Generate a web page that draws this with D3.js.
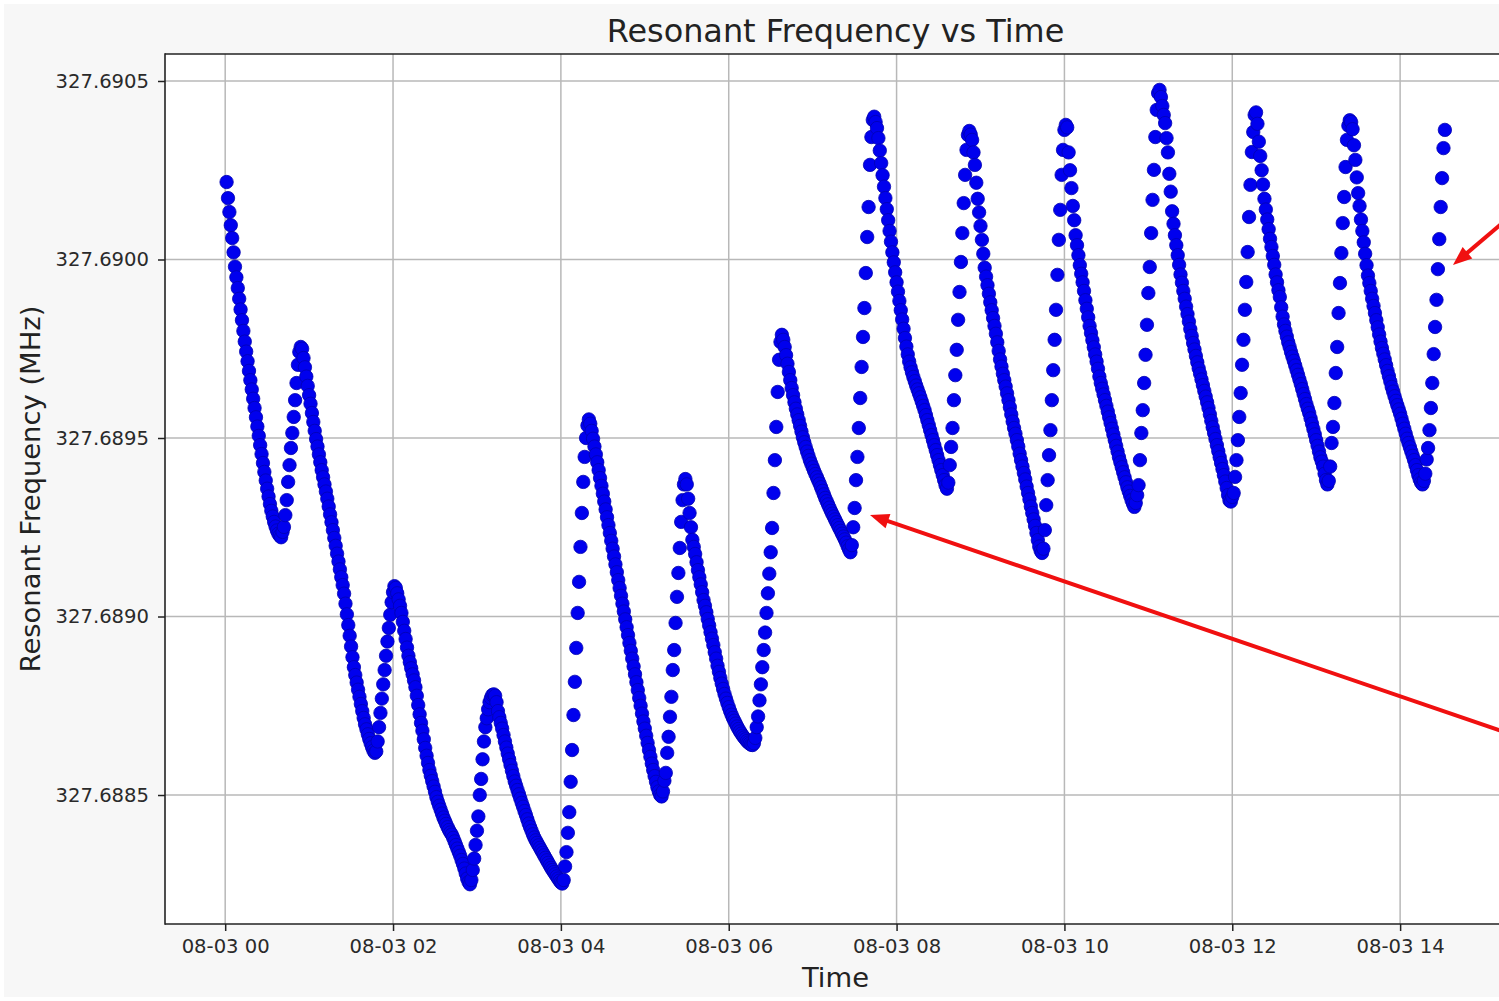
<!DOCTYPE html>
<html>
<head>
<meta charset="utf-8">
<script src="https://cdn.jsdelivr.net/npm/d3@7"></script>
<style>
  html, body { margin: 0; padding: 0; background: #ffffff; }
  svg { display: block; }
</style>
</head>
<body>
<svg id="chart" width="1499" height="1001"></svg>
<script>
// Resonant frequency readings, one per minute, stored as offsets in Hz above 327.688 MHz.
const baseFreqMHz = 327.688;

// 00:01 – 00:59
const hour00 = [
  2217,2172,2133,2096,2060,2020,1980,1950,1920,1890,
  1860,1830,1800,1770,1742,1715,1688,1662,1636,1610,
  1584,1558,1532,1506,1480,1455,1430,1405,1381,1358,
  1336,1315,1296,1280,1265,1252,1241,1232,1226,1222,
  1237,1251,1284,1326,1377,1424,1472,1514,1559,1606,
  1654,1705,1741,1755,1750,1724,1698,1672,1646
];
// 01:00 – 01:59
const hour01 = [
  1620,1596,1570,1545,1520,1497,1476,1454,1432,1410,
  1390,1370,1350,1330,1308,1286,1264,1242,1220,1198,
  1176,1154,1132,1110,1088,1064,1036,1006,976,946,
  916,886,858,836,815,795,775,755,735,716,
  698,684,670,657,645,634,624,618,622,650,
  690,730,770,810,850,890,930,968,1005,1040
];
// 02:00 – 02:59
const hour02 = [
  1068,1085,1080,1065,1048,1030,1010,985,960,937,
  913,890,872,855,838,821,802,778,752,726,
  702,680,656,632,610,590,570,554,539,524,
  509,494,481,470,459,448,437,428,419,410,
  402,395,389,380,370,360,350,340,330,318,
  307,294,280,266,256,250,262,290,322,360
];
// 03:00 – 03:59
const hour03 = [
  400,440,500,545,600,650,690,715,740,760,
  772,780,782,778,760,735,718,702,686,668,
  650,633,616,600,584,568,553,538,526,514,
  502,490,478,467,455,444,432,420,410,400,
  390,381,373,366,359,352,345,338,331,324,
  317,310,303,296,290,284,278,272,266,260
];
// 04:00 – 04:59
const hour04 = [
  255,252,262,300,340,394,452,537,626,724,
  817,912,1010,1097,1195,1290,1377,1447,1500,1535,
  1552,1540,1520,1498,1476,1454,1432,1410,1388,1366,
  1344,1322,1300,1278,1256,1234,1212,1190,1168,1146,
  1124,1102,1080,1058,1036,1014,992,970,948,926,
  904,882,860,838,816,794,772,750,728,706
];
// 05:00 – 05:59
const hour05 = [
  686,666,646,626,607,588,570,553,537,522,
  510,500,496,510,540,562,618,663,719,775,
  850,906,982,1055,1122,1192,1265,1326,1370,1385,
  1370,1330,1290,1250,1215,1195,1175,1152,1130,1110,
  1090,1068,1046,1030,1012,993,975,956,938,920,
  900,882,862,845,828,812,797,783,770,758
];
// 06:00 – 06:59
const hour06 = [
  746,735,725,716,708,700,692,685,678,672,
  666,661,656,651,647,644,641,640,645,660,
  690,720,765,810,858,906,955,1010,1065,1120,
  1180,1248,1346,1438,1531,1629,1719,1769,1789,1775,
  1755,1732,1708,1685,1662,1640,1620,1600,1582,1566,
  1550,1534,1518,1502,1488,1475,1462,1450,1438,1428
];
// 07:00 – 07:59
const hour07 = [
  1418,1408,1399,1390,1381,1372,1362,1352,1342,1332,
  1323,1314,1305,1296,1288,1280,1272,1264,1256,1248,
  1240,1232,1224,1216,1207,1197,1188,1180,1200,1250,
  1304,1382,1447,1528,1612,1699,1783,1864,1962,2063,
  2147,2265,2343,2391,2400,2385,2368,2340,2305,2270,
  2236,2204,2172,2141,2110,2080,2050,2020,1992,1964
];
// 08:00 – 08:59
const hour08 = [
  1936,1910,1884,1858,1832,1806,1780,1756,1734,1714,
  1698,1684,1671,1659,1647,1636,1625,1614,1602,1590,
  1578,1564,1550,1536,1522,1508,1494,1480,1466,1452,
  1438,1424,1410,1396,1382,1368,1358,1375,1424,1475,
  1528,1606,1676,1747,1831,1909,1993,2074,2158,2237,
  2307,2349,2360,2350,2335,2300,2265,2215,2170,2132
];
// 09:00 – 09:59
const hour09 = [
  2094,2055,2016,1977,1952,1928,1904,1880,1858,1836,
  1814,1792,1768,1744,1720,1700,1680,1662,1644,1625,
  1606,1586,1566,1546,1528,1512,1494,1476,1456,1438,
  1420,1402,1384,1364,1346,1328,1308,1290,1272,1254,
  1234,1214,1196,1184,1178,1190,1242,1312,1382,1452,
  1522,1606,1690,1775,1859,1957,2055,2139,2237,2307
];
// 10:00 – 10:59
const hour10 = [
  2363,2377,2370,2300,2250,2200,2150,2110,2068,2040,
  2012,1984,1960,1936,1912,1886,1862,1838,1814,1794,
  1774,1754,1734,1714,1694,1672,1654,1638,1622,1606,
  1590,1574,1558,1542,1526,1510,1494,1478,1462,1446,
  1432,1418,1404,1390,1376,1362,1350,1338,1326,1316,
  1307,1318,1340,1368,1438,1514,1578,1654,1733,1817
];
// 11:00 – 11:59
const hour11 = [
  1906,1979,2074,2167,2251,2343,2419,2466,2475,2455,
  2430,2405,2382,2340,2300,2240,2190,2135,2100,2068,
  2040,2012,1985,1958,1935,1912,1890,1868,1847,1826,
  1805,1786,1766,1748,1730,1712,1695,1680,1664,1648,
  1632,1616,1600,1584,1566,1548,1530,1514,1497,1480,
  1463,1446,1430,1413,1396,1378,1360,1340,1325,1322
];
// 12:00 – 12:59
const hour12 = [
  1335,1346,1391,1438,1494,1559,1626,1705,1775,1859,
  1937,2021,2119,2209,2301,2357,2405,2412,2380,2330,
  2290,2250,2210,2170,2140,2112,2085,2058,2035,2010,
  1985,1958,1936,1914,1895,1866,1840,1818,1800,1784,
  1768,1755,1741,1728,1716,1703,1690,1677,1664,1651,
  1637,1623,1609,1595,1582,1570,1555,1540,1525,1510
];
// 13:00 – 13:59
const hour13 = [
  1494,1478,1462,1446,1434,1420,1400,1382,1370,1380,
  1420,1486,1531,1598,1682,1755,1850,1934,2018,2102,
  2175,2259,2335,2375,2390,2385,2365,2320,2279,2230,
  2186,2150,2112,2080,2048,2016,1984,1955,1934,1912,
  1890,1870,1850,1830,1810,1790,1770,1752,1736,1720,
  1704,1688,1673,1658,1643,1630,1617,1604,1592,1580
];
// 14:00 – 14:32
const hour14 = [
  1568,1554,1540,1526,1512,1498,1486,1474,1462,1450,
  1438,1424,1410,1396,1384,1375,1370,1380,1400,1440,
  1472,1522,1584,1654,1735,1811,1887,1973,2057,2147,
  2228,2312,2363
];

// [hour, minute of the first reading, readings]
const hourBlocks = [
  [0, 1, hour00], [1, 0, hour01], [2, 0, hour02], [3, 0, hour03],
  [4, 0, hour04], [5, 0, hour05], [6, 0, hour06], [7, 0, hour07],
  [8, 0, hour08], [9, 0, hour09], [10, 0, hour10], [11, 0, hour11],
  [12, 0, hour12], [13, 0, hour13], [14, 0, hour14]
];

const xTickHours = [0, 2, 4, 6, 8, 10, 12, 14];
const yTickValues = [327.6885, 327.6890, 327.6895, 327.6900, 327.6905];

// Red call-out arrows: tail and tip given in (time, MHz).
const callouts = [
  { tail: [15, 32, 50, 327.6901675], tip: [14, 37, 48, 327.6899846] },
  { tail: [15, 32, 50, 327.6886524], tip: [7, 41, 0, 327.6892843] }
];

const day = (h, m, s = 0) => new Date(2024, 7, 3, h, m, s);

const readings = [];
hourBlocks.forEach(([hour, firstMinute, values]) => {
  values.forEach((hz, i) => {
    readings.push({ time: day(hour, firstMinute + i), mhz: baseFreqMHz + hz / 1e6 });
  });
});

const W = 1499, H = 1001;
const plot = { left: 165, right: 1506, top: 54, bottom: 924 };

const svg = d3.select("#chart");

// Figure background
svg.append("rect").attr("width", W).attr("height", H).attr("fill", "#ffffff");
svg.append("rect").attr("x", 4).attr("y", 4).attr("width", W - 4).attr("height", H - 8)
  .attr("fill", "#f7f7f7");

const x = d3.scaleTime()
  .domain([new Date(2024, 7, 2, 23, 16, 58), day(15, 15, 42)])
  .range([plot.left, plot.right]);

const y = d3.scaleLinear()
  .domain([327.6881387, 327.6905756])
  .range([plot.bottom, plot.top]);

// Axes background
svg.append("rect")
  .attr("x", plot.left).attr("y", plot.top)
  .attr("width", plot.right - plot.left).attr("height", plot.bottom - plot.top)
  .attr("fill", "#ffffff");

const xTicks = xTickHours.map(h => day(h, 0));

// Grid
const grid = svg.append("g").attr("stroke", "#b8b8b8").attr("stroke-width", 1.5);
grid.selectAll("line.vx").data(xTicks).join("line")
  .attr("x1", d => x(d)).attr("x2", d => x(d))
  .attr("y1", plot.top).attr("y2", plot.bottom);
grid.selectAll("line.hy").data(yTickValues).join("line")
  .attr("x1", plot.left).attr("x2", plot.right)
  .attr("y1", d => y(d)).attr("y2", d => y(d));

// Scatter points
const clip = svg.append("clipPath").attr("id", "plot-clip");
clip.append("rect").attr("x", plot.left).attr("y", plot.top)
  .attr("width", plot.right - plot.left).attr("height", plot.bottom - plot.top);

svg.append("g").attr("clip-path", "url(#plot-clip)")
  .selectAll("circle").data(readings).join("circle")
  .attr("cx", d => x(d.time))
  .attr("cy", d => y(d.mhz))
  .attr("r", 6.7)
  .attr("fill", "#0000ee")
  .attr("stroke", "#0000b0")
  .attr("stroke-width", 0.8);

// Axes
const fontFamily = "'DejaVu Sans', 'Liberation Sans', sans-serif";

const xAxis = svg.append("g")
  .attr("transform", `translate(0,${plot.bottom})`)
  .call(d3.axisBottom(x).tickValues(xTicks).tickFormat(d3.timeFormat("%m-%d %H"))
    .tickSize(7).tickPadding(8).tickSizeOuter(0));

const yAxis = svg.append("g")
  .attr("transform", `translate(${plot.left},0)`)
  .call(d3.axisLeft(y).tickValues(yTickValues).tickFormat(d3.format(".4f"))
    .tickSize(7).tickPadding(9).tickSizeOuter(0));

[xAxis, yAxis].forEach(a => {
  a.select(".domain").remove();
  a.selectAll(".tick line").attr("stroke", "#222").attr("stroke-width", 1.5);
  a.selectAll(".tick text")
    .attr("fill", "#2a2a2a")
    .style("font-family", fontFamily)
    .style("font-size", "19.6px");
});

// Spines
const spines = svg.append("g").attr("stroke", "#222").attr("stroke-width", 1.6).attr("fill", "none");
spines.append("line").attr("x1", plot.left).attr("x2", plot.left).attr("y1", plot.top - 0.8).attr("y2", plot.bottom + 0.8);
spines.append("line").attr("x1", plot.left).attr("x2", plot.right).attr("y1", plot.bottom).attr("y2", plot.bottom);
spines.append("line").attr("x1", plot.left).attr("x2", plot.right).attr("y1", plot.top).attr("y2", plot.top);
spines.append("line").attr("x1", plot.right).attr("x2", plot.right).attr("y1", plot.top).attr("y2", plot.bottom);

// Title and axis labels
const midX = (plot.left + plot.right) / 2;
svg.append("text")
  .attr("x", midX).attr("y", 42)
  .attr("text-anchor", "middle")
  .attr("fill", "#222")
  .style("font-family", fontFamily).style("font-size", "31.9px")
  .text("Resonant Frequency vs Time");

svg.append("text")
  .attr("x", midX).attr("y", 987)
  .attr("text-anchor", "middle")
  .attr("fill", "#222")
  .style("font-family", fontFamily).style("font-size", "27.4px")
  .text("Time");

svg.append("text")
  .attr("transform", `translate(40,${(plot.top + plot.bottom) / 2}) rotate(-90)`)
  .attr("text-anchor", "middle")
  .attr("fill", "#222")
  .style("font-family", fontFamily).style("font-size", "27.4px")
  .text("Resonant Frequency (MHz)");

// Call-out arrows
const arrows = svg.append("g");
callouts.forEach(c => {
  const x1 = x(day(c.tail[0], c.tail[1], c.tail[2])), y1 = y(c.tail[3]);
  const x2 = x(day(c.tip[0], c.tip[1], c.tip[2])), y2 = y(c.tip[3]);
  const dx = x2 - x1, dy = y2 - y1, len = Math.hypot(dx, dy);
  const ux = dx / len, uy = dy / len;
  const headLen = 19, headHalf = 7.5;
  const bx = x2 - ux * headLen, by = y2 - uy * headLen;
  arrows.append("line")
    .attr("x1", x1).attr("y1", y1).attr("x2", bx + ux * 3).attr("y2", by + uy * 3)
    .attr("stroke", "#f01010").attr("stroke-width", 4);
  arrows.append("path")
    .attr("d", `M${x2},${y2}L${bx - uy * headHalf},${by + ux * headHalf}L${bx + uy * headHalf},${by - ux * headHalf}Z`)
    .attr("fill", "#f01010");
});
</script>
</body>
</html>
